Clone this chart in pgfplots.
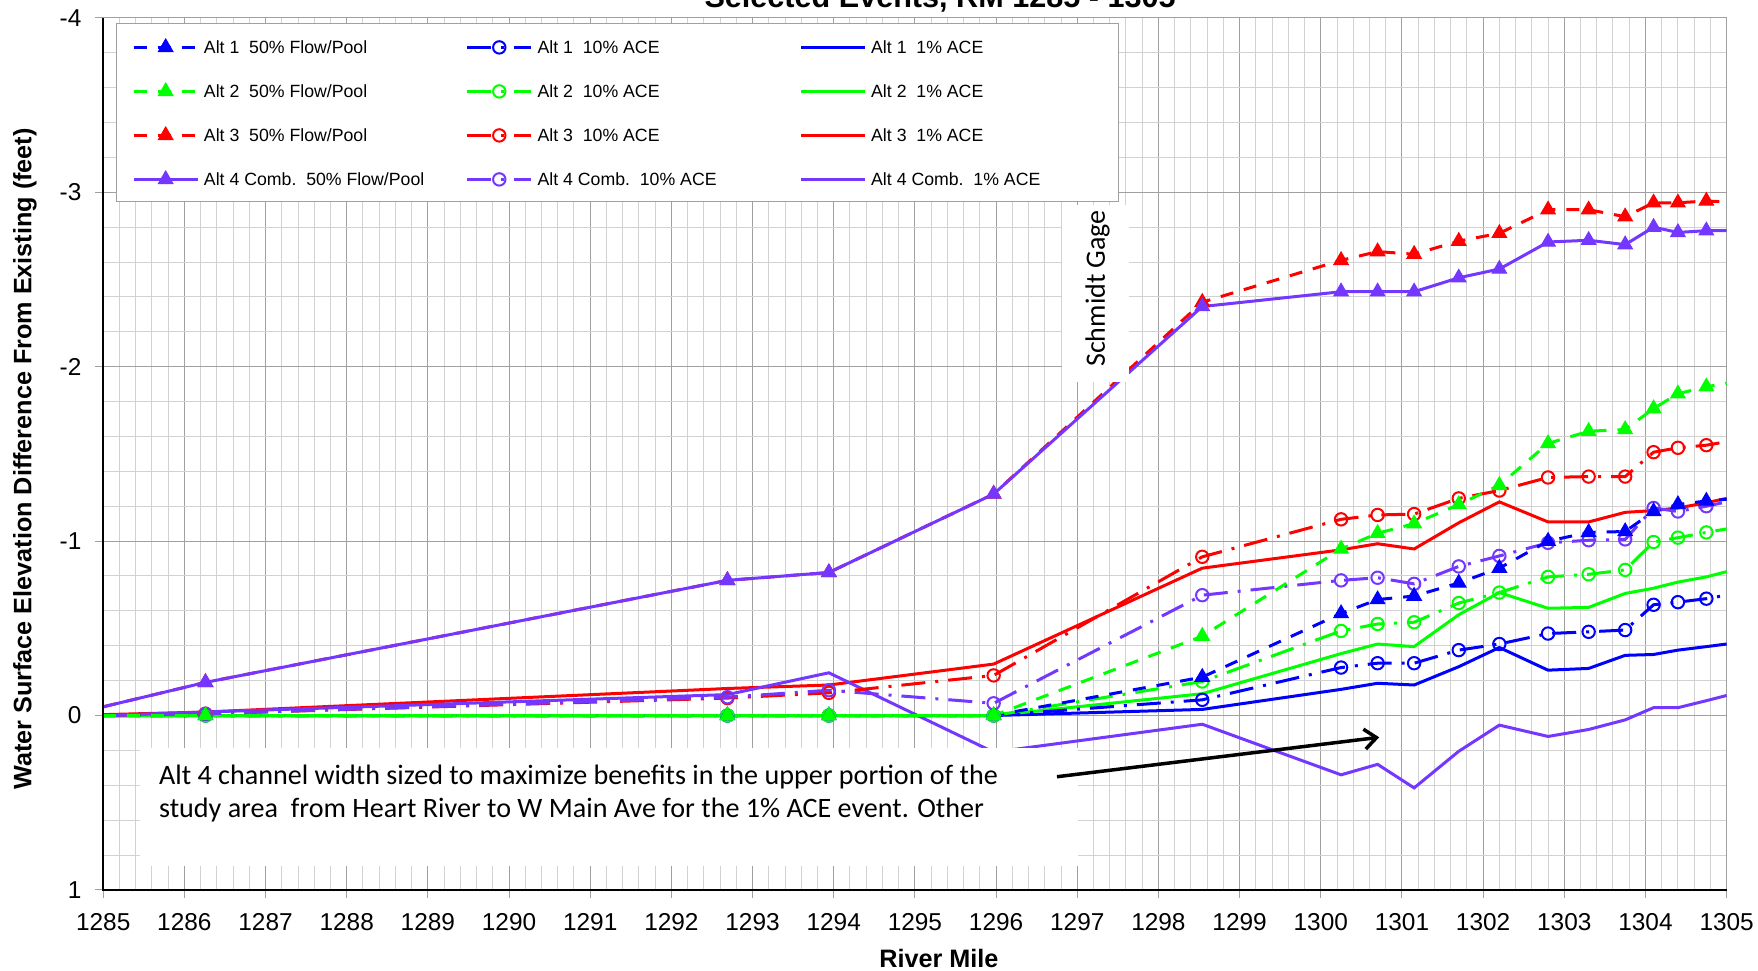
\documentclass[border=0pt]{standalone}
\usepackage{pgfplots}
\usepackage{pgfplotstable}
\pgfplotsset{compat=1.18}
\usepackage{fontspec}
\setmainfont{Liberation Sans}
\newfontfamily\calibri{Carlito}
\usetikzlibrary{arrows.meta}

\definecolor{altblue}{RGB}{0,0,255}
\definecolor{altgreen}{RGB}{0,255,0}
\definecolor{altred}{RGB}{255,0,0}
\definecolor{altpurple}{RGB}{115,55,255}
\definecolor{gridmajor}{RGB}{160,160,160}
\definecolor{gridminor}{RGB}{210,210,210}

% f = 50% Flow/Pool, t = 10% ACE, o = 1% ACE
\pgfplotstableread{
rm       a1f     a1t     a1o     a2f     a2t     a2o     a3f     a3t     a3o     a4f     a4t     a4o
1285     0       0       0       0       0       0       -0.05   0       -0.005  -0.05   0       0
1286.26  0       0       0       0       0       0       -0.19   -0.01   -0.02   -0.19   -0.01   -0.02
1292.69  0       0       0       0       0       0       -0.775  -0.10   -0.155  -0.775  -0.105  -0.12
1293.94  0       0       0       0       0       0       -0.82   -0.13   -0.175  -0.82   -0.145  -0.245
1295.97  0       0       0       0       0       0       -1.27   -0.23   -0.295  -1.27   -0.07   0.21
1298.54  -0.22   -0.09   -0.035  -0.455  -0.195  -0.125  -2.37   -0.91   -0.845  -2.345  -0.69   0.05
1300.25  -0.585  -0.275  -0.15   -0.955  -0.485  -0.355  -2.61   -1.125  -0.95   -2.43   -0.775  0.34
1300.7   -0.665  -0.30   -0.185  -1.045  -0.525  -0.41   -2.66   -1.15   -0.985  -2.43   -0.79   0.28
1301.15  -0.685  -0.30   -0.175  -1.10   -0.535  -0.395  -2.645  -1.155  -0.955  -2.43   -0.755  0.415
1301.7   -0.76   -0.375  -0.28   -1.21   -0.645  -0.578  -2.72   -1.245  -1.105  -2.51   -0.855  0.205
1302.2   -0.845  -0.41   -0.39   -1.32   -0.705  -0.705  -2.765  -1.29   -1.225  -2.56   -0.915  0.055
1302.8   -1.0    -0.47   -0.26   -1.56   -0.795  -0.615  -2.90   -1.365  -1.11   -2.715  -0.99   0.12
1303.3   -1.05   -0.48   -0.27   -1.63   -0.81   -0.62   -2.90   -1.37   -1.11   -2.725  -1.005  0.08
1303.75  -1.055  -0.49   -0.345  -1.64   -0.835  -0.70   -2.86   -1.37   -1.165  -2.70   -1.01   0.025
1304.1   -1.17   -0.635  -0.35   -1.76   -0.995  -0.73   -2.94   -1.51   -1.175  -2.80   -1.19   -0.045
1304.4   -1.21   -0.65   -0.375  -1.845  -1.02   -0.765  -2.94   -1.535  -1.19   -2.77   -1.17   -0.045
1304.75  -1.23   -0.67   -0.395  -1.885  -1.05   -0.795  -2.95   -1.55   -1.22   -2.78   -1.20   -0.085
1305     -1.24   -0.69   -0.41   -1.905  -1.07   -0.825  -2.945  -1.57   -1.245  -2.78   -1.225  -0.115
}\rmdata

\pgfplotsset{
  s50/.style={line width=1.5pt, dash pattern=on 6.5pt off 5.5pt, mark=triangle*, mark size=4.2pt,
    mark options={solid, line width=0.5pt}, mark indices={2,...,17}},
  s50solid/.style={line width=1.5pt, solid, mark=triangle*, mark size=4.2pt,
    mark options={solid, line width=0.5pt}, mark indices={2,...,17}},
  s10/.style={line width=1.5pt, dash pattern=on 12pt off 5pt on 1.5pt off 5pt, mark=o, mark size=3.1pt,
    mark options={solid, line width=1pt}, mark indices={2,...,17}},
  s1/.style={line width=1.5pt, solid, no marks},
}

\begin{document}
\begin{tikzpicture}
\begin{axis}[
  name=ax,
  scale only axis, width=811.7pt, height=436pt,
  xmin=1285, xmax=1305, ymin=-4, ymax=1, y dir=reverse,
  clip=false,
  xtick={1285,1286,...,1305}, ytick={-4,-3,...,1},
  minor xtick={1285,1285.2,...,1305}, minor ytick={-4,-3.8,...,1},
  grid=both,
  major grid style={draw=gridmajor, line width=0.5pt},
  minor grid style={draw=gridminor, line width=0.5pt},
  axis line style={draw=gridmajor, line width=0.5pt},
  tick align=outside, major tick length=3.85pt, minor tick length=0pt,
  major tick style={draw=gridmajor, line width=0.5pt},
  tick pos=left,
  /pgf/number format/assume math mode=true,
  /pgf/number format/1000 sep={},
  ticklabel style={font=\fontsize{12.2}{14}\selectfont},
  xticklabel style={yshift=-4.5pt},
  yticklabel style={xshift=-3.5pt},
  xlabel={River Mile},
  ylabel={Water Surface Elevation Difference From Existing (feet)},
  label style={font=\bfseries\fontsize{12.6}{15}\selectfont},
  xlabel style={at={(axis description cs:0.5148,-0.0791)}, anchor=center},
  ylabel style={at={(axis description cs:-0.0482,0.4942)}, anchor=center},
  legend columns=3,
  legend cell align=left,
  legend style={at={(axis description cs:0.00788,0.99381)}, anchor=north west,
    draw=gridmajor, line width=0.5pt, fill=white,
    inner xsep=7.85pt, inner ysep=7.6pt,
    column sep=2.4pt, row sep=14.3pt,
    font=\fontsize{8.85}{10}\selectfont,
    nodes={inner sep=0pt, text height=6.5pt, text depth=0.5pt}},
  legend image code/.code={\draw[#1, mark indices={2}] plot coordinates {(0pt,0pt) (16pt,0pt) (32pt,0pt)};},
]
% drawing order: 1% ACE, then 10% ACE, then 50% Flow/Pool on top
\addplot[forget plot, altblue, s1] table[x=rm, y=a1o] {\rmdata};
\addplot[forget plot, altgreen, s1] table[x=rm, y=a2o] {\rmdata};
\addplot[forget plot, altred, s1] table[x=rm, y=a3o] {\rmdata};
\addplot[forget plot, altpurple, s1] table[x=rm, y=a4o] {\rmdata};
\addplot[forget plot, altblue, s10] table[x=rm, y=a1t] {\rmdata};
\addplot[forget plot, altgreen, s10] table[x=rm, y=a2t] {\rmdata};
\addplot[forget plot, altred, s10] table[x=rm, y=a3t] {\rmdata};
\addplot[forget plot, altpurple, s10] table[x=rm, y=a4t] {\rmdata};
\addplot[forget plot, altblue, s50] table[x=rm, y=a1f] {\rmdata};
\addplot[forget plot, altgreen, s50] table[x=rm, y=a2f] {\rmdata};
\addplot[forget plot, altred, s50] table[x=rm, y=a3f] {\rmdata};
\addplot[forget plot, altpurple, s50solid] table[x=rm, y=a4f] {\rmdata};

\addlegendimage{altblue, s50}
\addlegendentry{\makebox[128.5pt][l]{Alt 1\ \ 50\% Flow/Pool}}
\addlegendimage{altblue, s10}
\addlegendentry{\makebox[128.5pt][l]{Alt 1\ \ 10\% ACE}}
\addlegendimage{altblue, s1}
\addlegendentry{\makebox[115.8pt][l]{Alt 1\ \ 1\% ACE}}
\addlegendimage{altgreen, s50}
\addlegendentry{\makebox[128.5pt][l]{Alt 2\ \ 50\% Flow/Pool}}
\addlegendimage{altgreen, s10}
\addlegendentry{\makebox[128.5pt][l]{Alt 2\ \ 10\% ACE}}
\addlegendimage{altgreen, s1}
\addlegendentry{\makebox[115.8pt][l]{Alt 2\ \ 1\% ACE}}
\addlegendimage{altred, s50}
\addlegendentry{\makebox[128.5pt][l]{Alt 3\ \ 50\% Flow/Pool}}
\addlegendimage{altred, s10}
\addlegendentry{\makebox[128.5pt][l]{Alt 3\ \ 10\% ACE}}
\addlegendimage{altred, s1}
\addlegendentry{\makebox[115.8pt][l]{Alt 3\ \ 1\% ACE}}
\addlegendimage{altpurple, s50solid}
\addlegendentry{\makebox[128.5pt][l]{Alt 4 Comb.\ \ 50\% Flow/Pool}}
\addlegendimage{altpurple, s10}
\addlegendentry{\makebox[128.5pt][l]{Alt 4 Comb.\ \ 10\% ACE}}
\addlegendimage{altpurple, s1}
\addlegendentry{\makebox[115.8pt][l]{Alt 4 Comb.\ \ 1\% ACE}}

% black left and bottom axis lines
\draw[black, line width=1.1pt] (axis cs:1285,-4) -- (axis cs:1285,1) -- (axis cs:1305,1);

% Schmidt Gage label
\fill[white] (axis cs:1296.81,-2.927) rectangle (axis cs:1297.64,-1.914);
\node[rotate=90, anchor=base, inner sep=0pt, font=\calibri\fontsize{14}{16}\selectfont]
  at (axis cs:1297.34,-2.449) {Schmidt Gage};

% annotation box
\fill[white] (axis cs:1285.45,0.186) rectangle (axis cs:1297.01,0.863);
\node[anchor=base west, inner sep=0pt, font=\calibri\fontsize{14.05}{16}\selectfont]
  at (axis cs:1285.684,0.393) {Alt 4 channel width sized to maximize benefits in the upper portion of the};
\node[anchor=base west, inner sep=0pt, font=\calibri\fontsize{14.05}{16}\selectfont]
  at (axis cs:1285.684,0.586) {study area\ \ from Heart River to W Main Ave for the 1\% ACE event. Other};
\draw[black, line width=1.75pt, -{Straight Barb[length=6pt,width=10pt]}]
  (axis cs:1296.75,0.351) -- (axis cs:1300.72,0.125);

\coordinate (ttl) at (axis description cs:0.5155,1.01135);
\coordinate (bbSW) at (axis description cs:-0.06357,-0.09288);
\coordinate (bbNE) at (axis description cs:1.01934,1.02053);
\end{axis}
% chart title, mostly above the page edge as in the original
\node[anchor=base, inner sep=0pt, font=\bfseries\fontsize{15.3}{18}\selectfont] at (ttl)
  {Selected Events, RM 1285 - 1305};
\pgfresetboundingbox
\path[use as bounding box] (bbSW) rectangle (bbNE);
\end{tikzpicture}
\end{document}
